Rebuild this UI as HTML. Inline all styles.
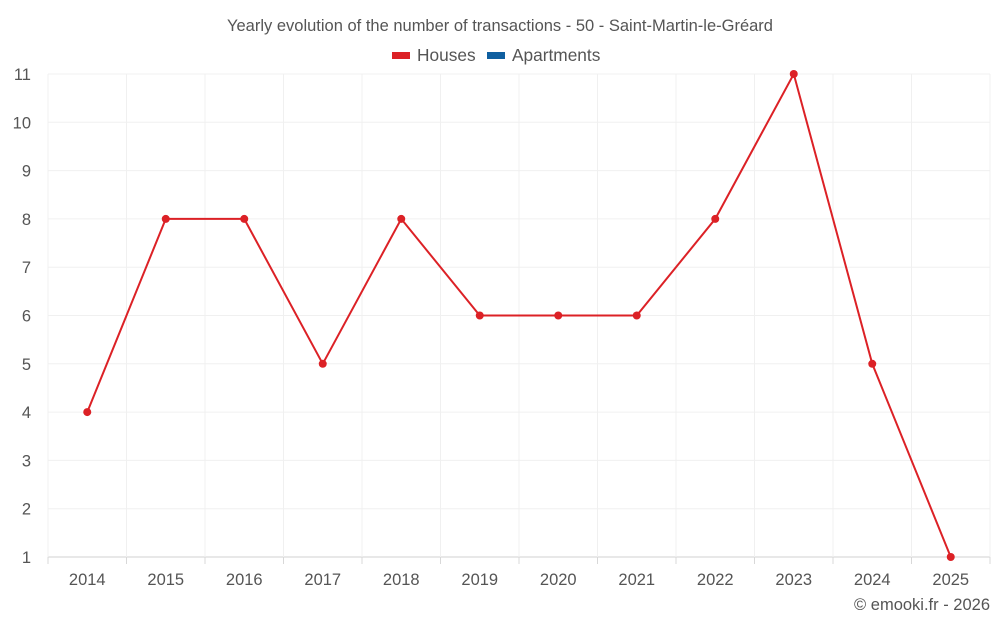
<!DOCTYPE html>
<html><head><meta charset="utf-8"><style>
body{margin:0;background:#fff;font-family:"Liberation Sans",sans-serif;}
svg text{font-family:"Liberation Sans",sans-serif;fill:#555;}
</style></head><body>
<svg id="c" width="1000" height="625">
<text x="500" y="31" text-anchor="middle" font-size="16.5">Yearly evolution of the number of transactions - 50 - Saint-Martin-le-Gréard</text>
<g>
<g><rect x="392" y="52" width="18" height="7" fill="#dc2126"/><text x="417" y="61" font-size="17.3">Houses</text></g>
<g><rect x="487" y="52" width="18" height="7" fill="#0f5fa0"/><text x="512" y="61" font-size="17.3">Apartments</text></g>
</g>
<g id="grid"></g><g id="axes"></g><g id="series"></g>
<text x="990" y="610" text-anchor="end" font-size="16.5">© emooki.fr - 2026</text>
</svg>
<script>
const categories=["2014","2015","2016","2017","2018","2019","2020","2021","2022","2023","2024","2025"];
const houses=[4,8,8,5,8,6,6,6,8,11,5,1];
const yTicks=[1,2,3,4,5,6,7,8,9,10,11];
const L=48,R=990,T=74,B=557,yMin=1,yMax=11;
const bw=(R-L)/categories.length;
const xs=i=>L+bw*(i+0.5);
const ys=v=>B-(v-yMin)/(yMax-yMin)*(B-T);
const NS="http://www.w3.org/2000/svg";
function mk(t,a,p){const e=document.createElementNS(NS,t);for(const k in a)e.setAttribute(k,a[k]);p.appendChild(e);return e;}
const g=document.getElementById('grid'),ax=document.getElementById('axes'),s=document.getElementById('series');
yTicks.forEach(v=>{
 const l=mk('line',{x1:L,x2:R,y1:ys(v),y2:ys(v),stroke:v===yMin?'#d0d0d0':'#f0f0f0'},g);
 
 
 const t=mk('text',{x:31,y:ys(v)+6,'text-anchor':'end','font-size':'16.5'},ax);t.textContent=v;
 
 
});
for(let i=0;i<=categories.length;i++){
 const x=L+bw*i;
 const l=mk('line',{x1:x,x2:x,y1:T,y2:B,stroke:'#f0f0f0'},g);
 
 
 const tk=mk('line',{x1:x,x2:x,y1:B,y2:B+7,stroke:'#d8d8d8'},g);
 
 
}
categories.forEach((c,i)=>{
 const t=mk('text',{x:xs(i),y:585,'text-anchor':'middle','font-size':'16.5'},ax);t.textContent=c;
 
 
});
const pl=mk('polyline',{points:houses.map((v,i)=>xs(i)+','+ys(v)).join(' '),fill:'none',stroke:'#dc2126','stroke-width':2},s);


houses.forEach((v,i)=>{
 const c=mk('circle',{cx:xs(i),cy:ys(v),r:4,fill:'#dc2126'},s);
 
 
});
</script>
</body></html>
